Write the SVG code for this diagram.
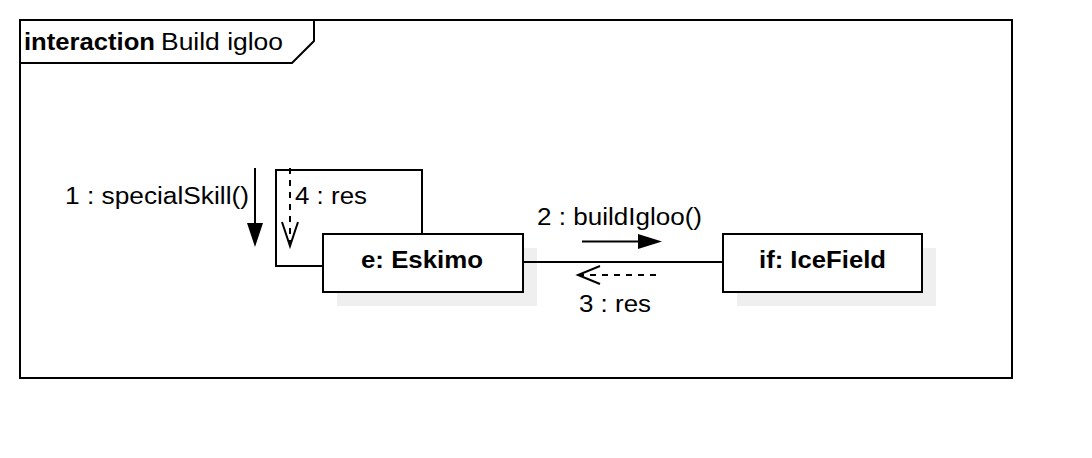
<svg xmlns="http://www.w3.org/2000/svg" width="1092" height="458" viewBox="0 0 1092 458">
<style>
.ln{fill:none;stroke:#000;stroke-width:2}
.dash{fill:none;stroke:#000;stroke-width:2;stroke-dasharray:6 6}
.box{fill:#fff;stroke:#000;stroke-width:2}
.shadow{fill:#efefef;stroke:none}
.t{font-family:"Liberation Sans",Arial,sans-serif;font-size:23px;fill:#000}
.b{font-weight:bold}
</style>
<rect width="1092" height="458" fill="#fff"/>
<g id="frame">
<rect x="20" y="20" width="992" height="358" class="ln"/>
<path d="M20,63 H292 L314,41 V20" class="ln"/>
<text x="24" y="50" class="t b" textLength="131" lengthAdjust="spacingAndGlyphs">interaction</text>
<text x="161" y="50" class="t" textLength="122" lengthAdjust="spacingAndGlyphs">Build igloo</text>
</g>
<g id="eskimo">
<rect x="337" y="248" width="200" height="58" class="shadow"/>
<rect x="323" y="234" width="200" height="58" class="box"/>
<text x="361" y="268" class="t b" textLength="122" lengthAdjust="spacingAndGlyphs">e: Eskimo</text>
</g>
<g id="icefield">
<rect x="737" y="248" width="199" height="58" class="shadow"/>
<rect x="723" y="234" width="199" height="58" class="box"/>
<text x="759" y="268" class="t b" textLength="127" lengthAdjust="spacingAndGlyphs">if: IceField</text>
</g>
<g id="connectors">
<path d="M323,266 H276 V170 H422 V234" class="ln"/>
<line x1="523" y1="262" x2="723" y2="262" class="ln"/>
<g id="msg1">
<line x1="255" y1="168" x2="255" y2="226" class="ln"/>
<polygon points="247,223 263,223 255,247" fill="#000"/>
<text x="65" y="204" class="t" textLength="184" lengthAdjust="spacingAndGlyphs">1 : specialSkill()</text>
</g>
<g id="msg4">
<line x1="290" y1="168" x2="290" y2="244" class="dash"/>
<polyline points="282,222 290,246 298,222" class="ln"/>
<text x="295" y="204" class="t" textLength="72" lengthAdjust="spacingAndGlyphs">4 : res</text>
</g>
<g id="msg2">
<line x1="582" y1="241.5" x2="640" y2="241.5" class="ln"/>
<polygon points="638,234 662,241.5 638,249" fill="#000"/>
<text x="537" y="225" class="t" textLength="165" lengthAdjust="spacingAndGlyphs">2 : buildIgloo()</text>
</g>
<g id="msg3">
<line x1="656" y1="275" x2="580" y2="275" class="dash"/>
<polyline points="600,266 578,275 600,284" class="ln"/>
<text x="579" y="312" class="t" textLength="72" lengthAdjust="spacingAndGlyphs">3 : res</text>
</g>
</g>
</svg>
